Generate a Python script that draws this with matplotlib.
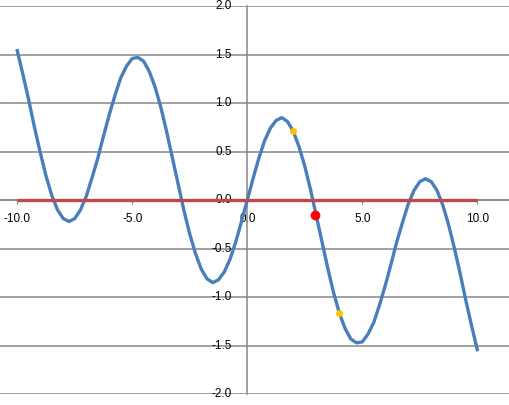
import matplotlib
matplotlib.use("Agg")
import matplotlib.pyplot as plt

# curve, step 0.25 from -10 to 10
x_curve = [i * 0.25 for i in range(-40, 41)]
y_pos = [0.00, 0.22, 0.43, 0.61, 0.74, 0.82, 0.85, 0.81, 0.71, 0.55,
         0.35, 0.11, -0.16, -0.43, -0.70, -0.95, -1.16, -1.32, -1.43, -1.47,
         -1.46, -1.38, -1.26, -1.08, -0.88, -0.66, -0.43, -0.23, -0.04, 0.10,
         0.19, 0.22, 0.19, 0.10, -0.05, -0.25, -0.49, -0.75, -1.03, -1.29,
         -1.54]
y_curve = [-v for v in y_pos[:0:-1]] + y_pos

zero_x = [-10, 10]
zero_y = [0, 0]

orange_x = [2.0, 4.0]
orange_y = [0.71, -1.16]

red_x = [2.95]
red_y = [-0.15]

x_ticks = [-10, -5, 0, 5, 10]
y_ticks = [-2.0, -1.5, -1.0, -0.5, 0.0, 0.5, 1.0, 1.5, 2.0]

plt.rcParams['font.family'] = ['Liberation Sans', 'DejaVu Sans']

fig = plt.figure(figsize=(5.09, 4.05), dpi=100)
ax = fig.add_axes([0, 10.7 / 405, 1, 388.3 / 405])

grid_col = '#878787'
for yv in y_ticks:
    ax.axhline(yv, color=grid_col, lw=1.1, zorder=1)

ax.plot(x_curve, y_curve, color='#4A7EBB', lw=2.4, zorder=3)
ax.plot(zero_x, zero_y, color='#BE4B48', lw=2.4, zorder=4, solid_capstyle='butt')
ax.plot(orange_x, orange_y, 'o', color='#FFC000', ms=5, mec='none', zorder=5)
ax.plot(red_x, red_y, 'o', color='#FF0000', ms=7, mec='none', zorder=5)

ax.set_xlim(-10.75, 11.38)
ax.set_ylim(-2.0, 2.0)

for s in ['top', 'right']:
    ax.spines[s].set_visible(False)
ax.spines['left'].set_position('zero')
ax.spines['bottom'].set_position('zero')
ax.spines['left'].set_color(grid_col)
ax.spines['bottom'].set_color(grid_col)
ax.spines['left'].set_linewidth(1.1)
ax.spines['bottom'].set_linewidth(1.1)
ax.spines['bottom'].set_zorder(2)

ax.set_xticks(x_ticks)
ax.set_xticklabels(['%.1f' % v for v in x_ticks])
ax.set_yticks(y_ticks)
ax.set_yticklabels(['%.1f' % v for v in y_ticks])
ax.tick_params(axis='x', direction='out', length=3, color=grid_col, pad=6, labelsize=8.5)
ax.tick_params(axis='y', length=0, pad=11, labelsize=8.5)
for lbl in ax.get_yticklabels():
    lbl.set_verticalalignment('center')

ax.set_facecolor('white')
fig.patch.set_facecolor('white')
fig.savefig('out.png', dpi=100, facecolor='white')
